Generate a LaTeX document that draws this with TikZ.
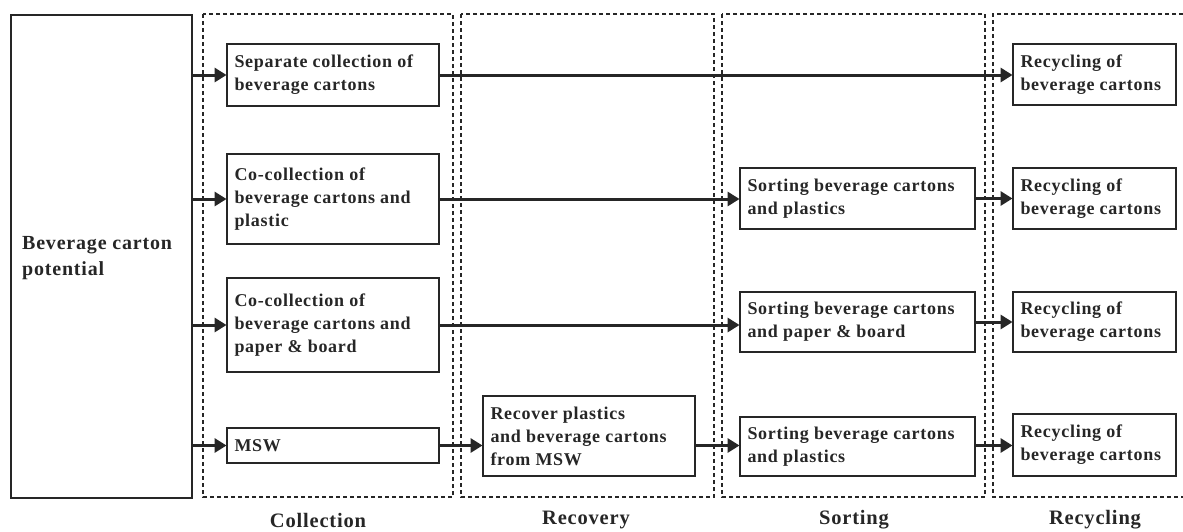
\documentclass[tikz,border=0pt]{standalone}
\usepackage{fontspec}
\setmainfont{Liberation Serif}
\newfontfamily\spfont[LetterSpace=4]{Liberation Serif}
\usetikzlibrary{arrows.meta}
\definecolor{ink}{HTML}{262626}
\tikzset{
  stagebox/.style={draw=ink, line width=1.7pt, dash pattern=on 4pt off 3pt},
  procbox/.style={draw=ink, line width=1.9pt, rectangle, inner xsep=7.5pt, inner ysep=0pt, align=flush left,
     font=\spfont\fontsize{18}{23}\selectfont\bfseries, text=ink, anchor=center},
  flow/.style={line width=3pt, draw=ink, -{Triangle[length=12pt,width=14pt]}, shorten >=-0.5pt},
  stagelabel/.style={font=\spfont\fontsize{20.5}{24}\selectfont\bfseries, text=ink}
}
\newcommand{\bx}[6]{%
  \pgfmathsetmacro{\bw}{#4-#2}\pgfmathsetmacro{\bh}{#5-#3}\pgfmathsetmacro{\tw}{#4-#2-15}%
  \node[procbox, minimum width=\bw pt, minimum height=\bh pt, text width=\tw pt] (#1) at ({(#2+#4)/2},{(#3+#5)/2}) {#6};}
\begin{document}
\begin{tikzpicture}[x=1pt,y=-1pt]
\useasboundingbox (0,0) rectangle (1183,531);
% stage areas
\draw[stagebox] (203,14) rectangle (453,497);
\draw[stagebox] (461,14) rectangle (714,497);
\draw[stagebox] (722,14) rectangle (985,497);
\draw[stagebox] (1190,14) -- (993,14) -- (993,497) -- (1190,497);
% left box
\node[draw=ink, line width=1.9pt, minimum width=181pt, minimum height=483pt, anchor=north west, inner sep=0pt] (pot) at (10,14) {};
\node[font=\spfont\fontsize{20}{26}\selectfont\bfseries, text=ink, align=left, anchor=west, inner sep=0pt] (potl) at (22,258) {Beverage carton\\potential};
% column 1
\bx{c1}{227}{44}{439}{106}{Separate collection of\\beverage cartons}
\bx{c2}{227}{154}{439}{244}{Co-collection of\\beverage cartons and\\plastic}
\bx{c3}{227}{278}{439}{372}{Co-collection of\\beverage cartons and\\paper \& board}
\bx{c4}{227}{428}{439}{463}{MSW}
% recovery
\bx{r4}{483}{396}{695}{476}{Recover plastics\\and beverage cartons\\from MSW}
% sorting
\bx{s2}{740}{168}{975}{229}{Sorting beverage cartons\\and plastics}
\bx{s3}{740}{292}{975}{352}{Sorting beverage cartons\\and paper \& board}
\bx{s4}{740}{417}{975}{476}{Sorting beverage cartons\\and plastics}
% recycling
\bx{y1}{1013}{44}{1176}{105}{Recycling of\\beverage cartons}
\bx{y2}{1013}{168}{1176}{229}{Recycling of\\beverage cartons}
\bx{y3}{1013}{292}{1176}{352}{Recycling of\\beverage cartons}
\bx{y4}{1013}{414}{1176}{476}{Recycling of\\beverage cartons}
% arrows from potential
\draw[flow] (pot.east |- c1.west) -- (c1.west);
\draw[flow] (pot.east |- c2.west) -- (c2.west);
\draw[flow] (pot.east |- c3.west) -- (c3.west);
\draw[flow] (pot.east |- c4.west) -- (c4.west);
% row flows
\draw[flow] (c1.east) -- (y1.west |- c1.east);
\draw[flow] (c2.east) -- (s2.west |- c2.east);
\draw[flow] (s2.east) -- (y2.west |- s2.east);
\draw[flow] (c3.east) -- (s3.west |- c3.east);
\draw[flow] (s3.east) -- (y3.west |- s3.east);
\draw[flow] (c4.east) -- (r4.west |- c4.east);
\draw[flow] (r4.east |- c4.east) -- (s4.west |- c4.east);
\draw[flow] (s4.east |- c4.east) -- (y4.west |- c4.east);
% stage labels
\node[stagelabel] (l1) at (318,520) {Collection};
\node[stagelabel] (l2) at (586,520) {Recovery};
\node[stagelabel] (l3) at (854,520) {Sorting};
\node[stagelabel] (l4) at (1095,520) {Recycling};
\end{tikzpicture}
\end{document}
